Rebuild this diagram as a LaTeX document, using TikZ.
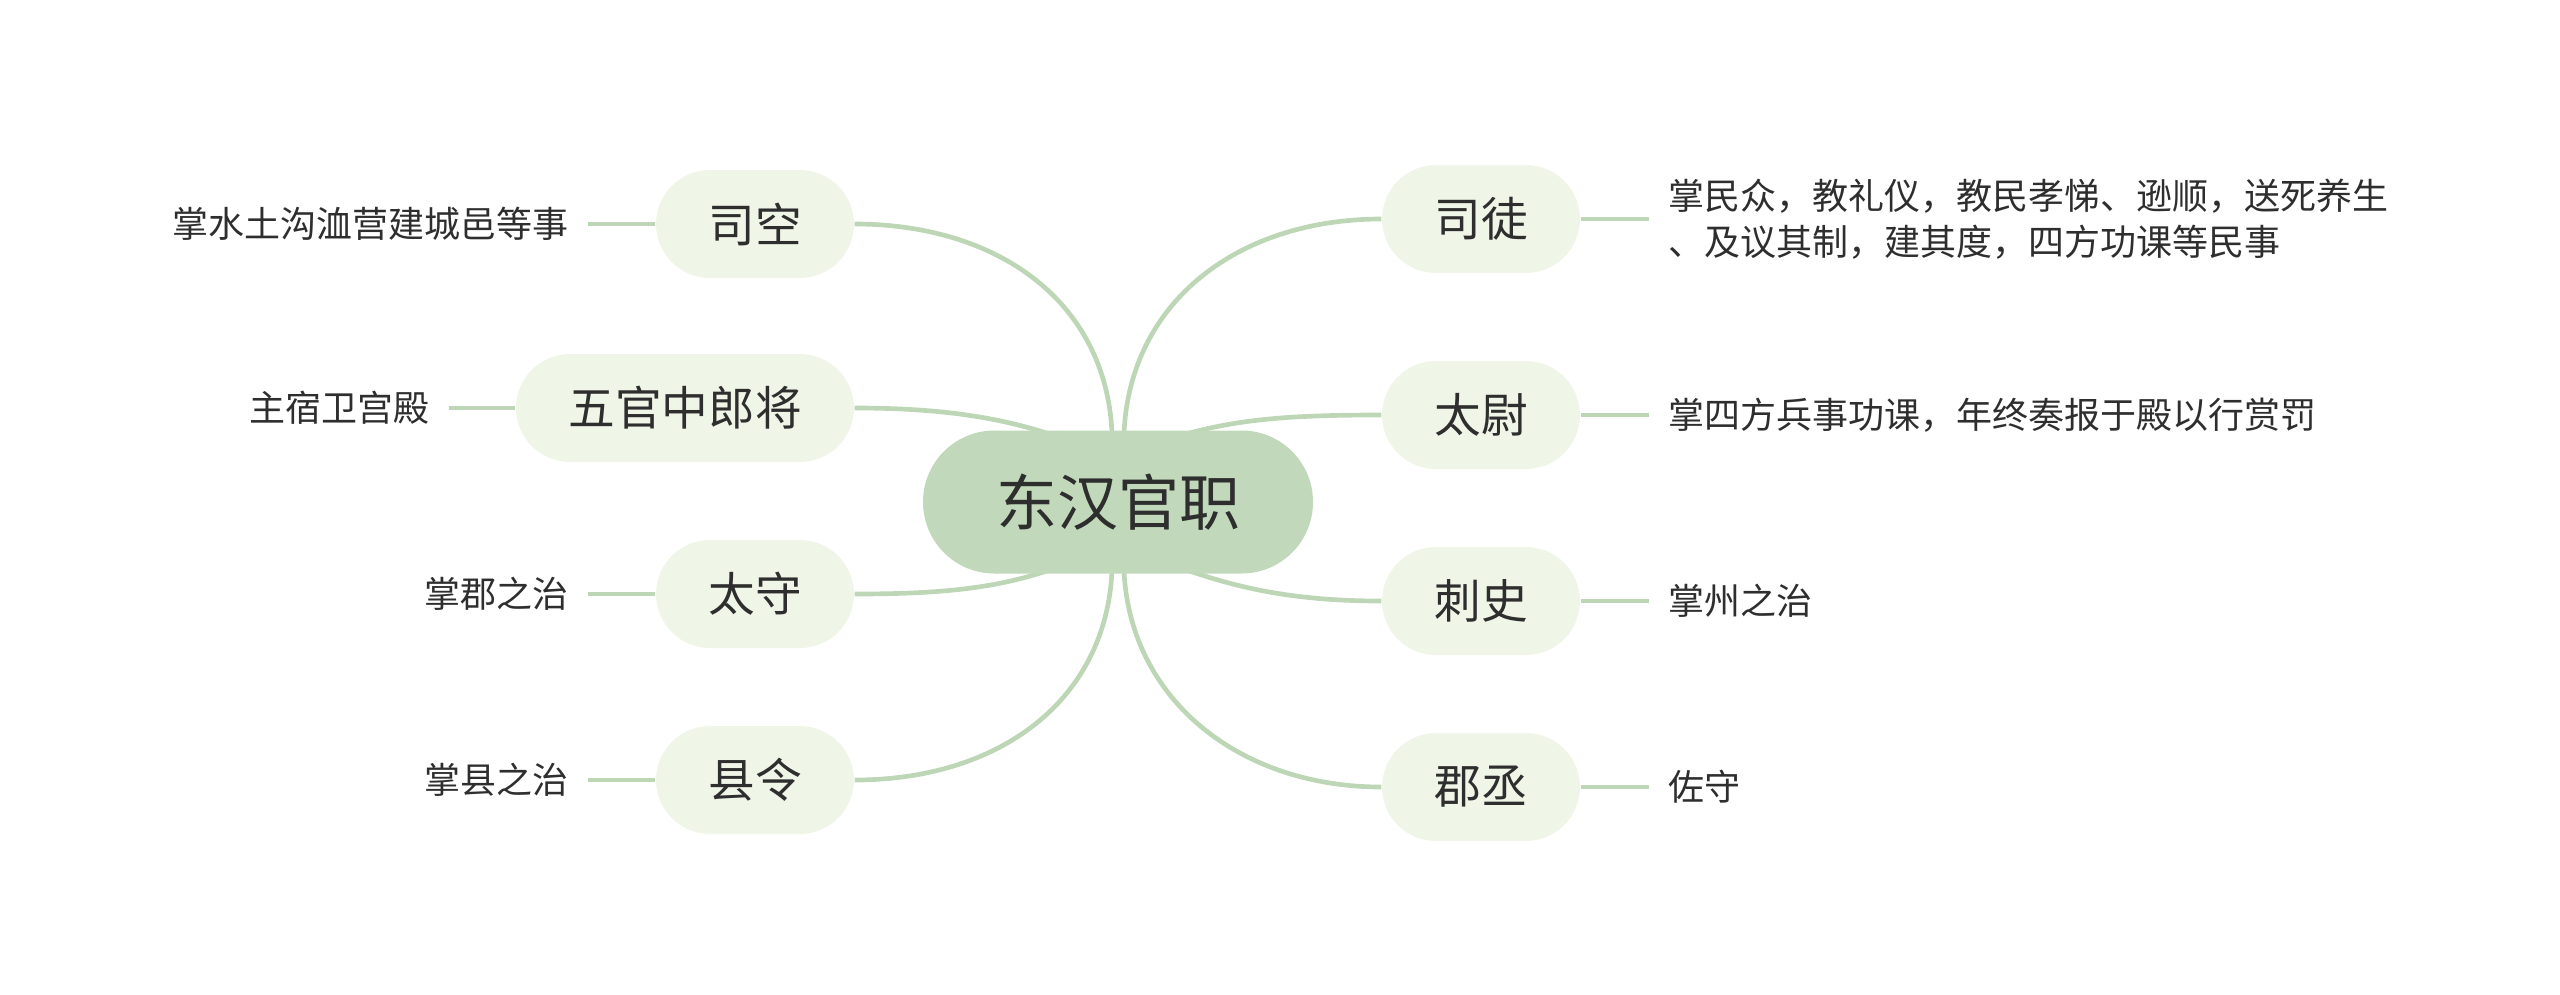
\documentclass[tikz,border=0pt]{standalone}
\usepackage{fontspec}
\setmainfont{Noto Sans CJK SC}
\usetikzlibrary{backgrounds}
\definecolor{rootfill}{HTML}{C1D9BA}
\definecolor{branchfill}{HTML}{EFF6E8}
\definecolor{linkc}{HTML}{BDD7B6}
\definecolor{txt}{HTML}{2E2E2E}
\begin{document}
\begin{tikzpicture}[x=0.3pt,y=-0.3pt,
  rootbox/.style={fill=rootfill, rounded corners=21.4pt, minimum width=117pt, minimum height=42.9pt, inner sep=0pt, font=\fontsize{18.3pt}{22pt}\selectfont, text=txt},
  branchbox/.style={fill=branchfill, rounded corners=16.2pt, minimum height=32.4pt, inner xsep=15.7pt, inner ysep=0pt, font=\fontsize{14pt}{17pt}\selectfont, text=txt},
  leaf/.style={inner xsep=5.7pt, inner ysep=2pt, align=left, font=\fontsize{10.8pt}{13.8pt}\selectfont, text=txt},
  link/.style={draw=linkc, line width=1.4pt}]
\useasboundingbox (0,0) rectangle (2560,994);
% root
\node[rootbox] (c) at (1118,502) {东汉官职};
% branches
\node[branchbox] (sk) at (755,224) {司空};
\node[branchbox] (wg) at (685,408) {五官中郎将};
\node[branchbox] (ts) at (755,594) {太守};
\node[branchbox] (xl) at (755,780) {县令};
\node[branchbox] (st) at (1481,219) {司徒};
\node[branchbox] (tw) at (1481,415) {太尉};
\node[branchbox] (cs) at (1481,601) {刺史};
\node[branchbox] (jc) at (1481,787) {郡丞};
% leaves
\node[leaf, anchor=east] (l1) at (588,224) {掌水土沟洫营建城邑等事};
\node[leaf, anchor=east] (l2) at (449,408) {主宿卫宫殿};
\node[leaf, anchor=east] (l3) at (588,594) {掌郡之治};
\node[leaf, anchor=east] (l4) at (588,780) {掌县之治};
\node[leaf, anchor=west] (r1) at (1649,219) {掌民众，教礼仪，教民孝悌、逊顺，送死养生\\、及议其制，建其度，四方功课等民事};
\node[leaf, anchor=west] (r2) at (1649,415) {掌四方兵事功课，年终奏报于殿以行赏罚};
\node[leaf, anchor=west] (r3) at (1649,601) {掌州之治};
\node[leaf, anchor=west] (r4) at (1649,787) {佐守};
\begin{scope}[on background layer]
  \draw[link] ([xshift=-1.8pt,yshift=-1pt]c.north) .. controls (1106,300) and (996,224) .. (sk.east);
  \draw[link] ([xshift=1.8pt,yshift=-1pt]c.north) .. controls (1130,300) and (1240,219) .. (st.west);
  \draw[link] ([xshift=-21.3pt,yshift=-1pt]c.north) .. controls (990,415) and (930,408) .. (wg.east);
  \draw[link] ([xshift=21.3pt,yshift=-1pt]c.north) .. controls (1245,418) and (1300,415) .. (tw.west);
  \draw[link] ([xshift=-21.3pt,yshift=1pt]c.south) .. controls (990,590) and (930,594) .. (ts.east);
  \draw[link] ([xshift=21.3pt,yshift=1pt]c.south) .. controls (1245,590) and (1300,601) .. (cs.west);
  \draw[link] ([xshift=-1.8pt,yshift=1pt]c.south) .. controls (1106,700) and (1000,780) .. (xl.east);
  \draw[link] ([xshift=1.8pt,yshift=1pt]c.south) .. controls (1130,700) and (1240,787) .. (jc.west);
  \draw[link] (sk.west) -- (l1.east);
  \draw[link] (wg.west) -- (l2.east);
  \draw[link] (ts.west) -- (l3.east);
  \draw[link] (xl.west) -- (l4.east);
  \draw[link] (st.east) -- (r1.west);
  \draw[link] (tw.east) -- (r2.west);
  \draw[link] (cs.east) -- (r3.west);
  \draw[link] (jc.east) -- (r4.west);
\end{scope}
\end{tikzpicture}
\end{document}
